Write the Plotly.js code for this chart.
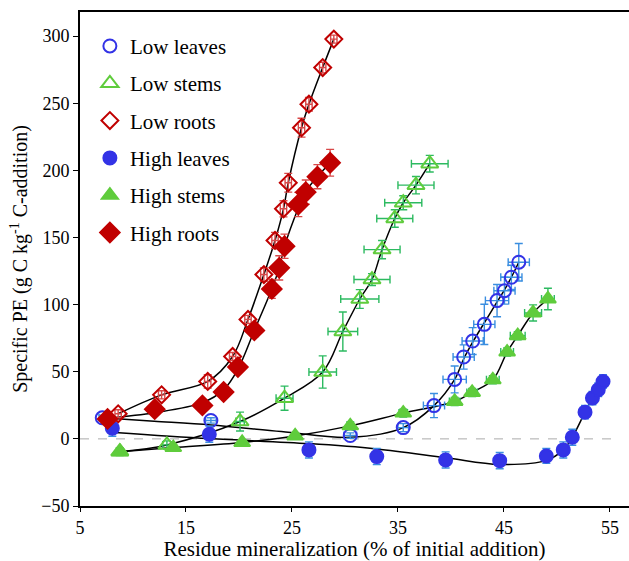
<!DOCTYPE html>
<html>
<head>
<meta charset="utf-8">
<script src="https://cdn.plot.ly/plotly-3.0.1.min.js"></script>
<style>html,body{margin:0;padding:0;background:#fff;}#chart{width:629px;height:561px;}</style>
</head>
<body>
<div id="chart"></div>
<script>
// Low leaves
const lowLeavesX   = [7.1, 17.35, 30.5, 35.5, 38.4, 40.35, 41.2, 42.05, 43.15, 44.35, 45.05, 45.7, 46.4];
const lowLeavesY   = [15.7, 13.7, 2.5, 8.4, 24.8, 44.3, 61.0, 72.9, 85.3, 103, 110.4, 120.4, 131.6];
const lowLeavesXe  = [0.3, 0.5, 0.6, 0.5, 1.0, 1.1, 1.0, 1.0, 1.0, 1.1, 1.0, 1.0, 1.0];
const lowLeavesYe  = [2, 2, 2, 3, 9, 10, 9, 10, 15, 12, 10, 9, 14];
// Low stems
const lowStemsX    = [8.75, 13.2, 20.1, 24.3, 27.9, 29.8, 31.4, 32.55, 33.5, 34.7, 35.5, 36.7, 38.0];
const lowStemsY    = [-9.5, -4.5, 12.9, 30.3, 49.8, 80, 104.2, 118.7, 141, 164.2, 175.9, 189, 205];
const lowStemsXe   = [0.3, 0.4, 0.4, 0.8, 1.3, 1.4, 1.8, 1.7, 1.7, 1.7, 1.75, 1.7, 1.73];
const lowStemsYe   = [3, 3, 7, 9, 12, 14.5, 7, 4.4, 6.8, 6.5, 5.2, 6.5, 6.2];
// Low roots
const lowRootsX    = [8.6, 12.7, 17.05, 19.4, 20.85, 22.35, 23.4, 24.2, 24.65, 25.9, 26.6, 27.9, 28.95];
const lowRootsY    = [18.7, 32.8, 42.8, 61.4, 89, 122.4, 147.8, 171.4, 190.8, 231.8, 249.3, 276.6, 297.8];
const lowRootsXe   = [0.3, 0.3, 0.3, 0.3, 0.3, 0.3, 0.3, 0.3, 0.3, 0.3, 0.3, 0.3, 0.3];
const lowRootsYe   = [3, 3, 5, 3, 3, 5, 6, 6, 7, 7, 5, 4, 3];
// High leaves
const highLeavesX  = [8.05, 17.2, 26.6, 33.0, 39.5, 44.6, 49.0, 50.6, 51.45, 52.65, 53.35, 53.9, 54.35];
const highLeavesY  = [8.0, 3.5, -8.2, -13.2, -15.7, -16.2, -12.7, -8.2, 1.2, 19.9, 30.4, 36.6, 42.8];
const highLeavesXe = [0.2, 0.2, 0.2, 0.2, 0.2, 0.2, 0.2, 0.2, 0.2, 0.2, 0.2, 0.2, 0.2];
const highLeavesYe = [6, 6, 6, 6, 6, 6, 5.5, 6, 6, 5, 5, 5, 5];
// High stems
const highStemsX   = [8.8, 13.8, 20.3, 25.3, 30.5, 35.5, 40.35, 42.0, 43.95, 45.3, 46.3, 47.75, 49.15];
const highStemsY   = [-9.5, -6.5, -2.7, 2.2, 9.7, 19.2, 27.9, 34.6, 44, 64.7, 76.9, 93.8, 104.2];
const highStemsXe  = [0.2, 0.2, 0.2, 0.2, 0.3, 0.4, 0.5, 0.5, 0.6, 0.6, 0.7, 0.8, 0.6];
const highStemsYe  = [2, 2, 2, 2, 3, 3, 3, 3, 3, 3, 3, 6, 8];
// High roots
const highRootsX   = [7.6, 12.05, 16.55, 18.55, 19.9, 21.45, 23.1, 23.8, 24.3, 25.6, 26.3, 27.4, 28.6];
const highRootsY   = [14.9, 22.1, 24.9, 34.9, 53.5, 80.8, 111.7, 127.4, 143.5, 174.6, 183.8, 195.3, 205.7];
const highRootsXe  = [0.3, 0.3, 0.3, 0.3, 0.3, 0.3, 0.3, 0.3, 0.3, 0.3, 0.3, 0.3, 0.3];
const highRootsYe  = [3, 3, 3, 4, 4, 5, 7, 9, 9, 9, 9, 9, 10];

// Fitted curves (where they depart from the points)
const lowLeavesFitX  = [7.1, 12.0, 17.35, 24.0, 30.5, 35.5, 38.4, 40.35, 41.2, 42.05, 43.15, 44.35, 45.05, 45.7, 46.4];
const lowLeavesFitY  = [15.7, 13.2, 10.4, 5.5, 1.2, 8.4, 24.8, 44.3, 59.5, 72.0, 86.5, 102, 111, 120.4, 131.6];
const highLeavesFitX = [8.3, 17.2, 26.6, 33.0, 39.5, 44.6, 49.0, 50.6, 51.45, 52.65, 53.35, 53.9, 54.35];
const highLeavesFitY = [4.8, 0.2, -3.5, -7.5, -14.0, -19.0, -16.0, -8.2, 1.2, 19.9, 30.4, 36.6, 42.8];
const highRootsFitX  = [7.6, 12.05, 16.55, 18.55, 19.9, 21.45, 23.1, 23.8, 24.3, 25.6, 26.3, 27.4, 28.6];
const highRootsFitY  = [15.5, 19.5, 27.0, 36.5, 52.0, 80.8, 111.7, 127.4, 143.5, 172.0, 184.5, 195.3, 205.7];

const seriesNames = ['Low leaves', 'Low stems', 'Low roots', 'High leaves', 'High stems', 'High roots'];

const BLUE = '#3333e6', GREEN = '#5fcc3c', RED = '#c00000';
const BLUE_E = '#3a8ee0', GREEN_E = '#2cba60', RED_E = '#d84848';

const series = [
  {x: lowLeavesX,  y: lowLeavesY,  xe: lowLeavesXe,  ye: lowLeavesYe,  fx: lowLeavesFitX,  fy: lowLeavesFitY,  sym: 'circle-open',      c: BLUE,  ec: BLUE_E,  s: 13},
  {x: lowStemsX,   y: lowStemsY,   xe: lowStemsXe,   ye: lowStemsYe,   fx: lowStemsX,      fy: lowStemsY,      sym: 'triangle-up-open', c: GREEN, ec: GREEN_E, s: 15},
  {x: lowRootsX,   y: lowRootsY,   xe: lowRootsXe,   ye: lowRootsYe,   fx: lowRootsX,      fy: lowRootsY,      sym: 'diamond-open',     c: RED,   ec: RED_E,   s: 13},
  {x: highLeavesX, y: highLeavesY, xe: highLeavesXe, ye: highLeavesYe, fx: highLeavesFitX, fy: highLeavesFitY, sym: 'circle',           c: BLUE,  ec: BLUE_E,  s: 13},
  {x: highStemsX,  y: highStemsY,  xe: highStemsXe,  ye: highStemsYe,  fx: highStemsX,     fy: highStemsY,     sym: 'triangle-up',      c: GREEN, ec: GREEN_E, s: 14},
  {x: highRootsX,  y: highRootsY,  xe: highRootsXe,  ye: highRootsYe,  fx: highRootsFitX,  fy: highRootsFitY,  sym: 'diamond',          c: RED,   ec: RED_E,   s: 15}
];

const traces = [];
series.forEach(s => {
  traces.push({x: s.fx, y: s.fy, mode: 'lines', type: 'scatter', showlegend: false, hoverinfo: 'skip',
    line: {color: '#000', width: 1.5, shape: 'spline', smoothing: 1.0}});
});
series.forEach((s, i) => {
  traces.push({
    x: s.x, y: s.y, mode: 'markers', type: 'scatter', name: seriesNames[i], legendgroup: 'g' + i,
    marker: {symbol: s.sym, size: s.s, color: s.c, line: {color: s.c, width: 2}},
    error_y: {type: 'data', array: s.ye, visible: true, color: s.ec, thickness: 1.4, width: 4},
    error_x: {type: 'data', array: s.xe, visible: true, color: s.ec, thickness: 1.4, width: 4}
  });
});

const FONT = '"Liberation Serif", "Times New Roman", Times, serif';

const layout = {
  width: 629, height: 561,
  margin: {l: 80, r: 0, t: 12, b: 55},
  paper_bgcolor: '#fff', plot_bgcolor: '#fff',
  font: {family: FONT, color: '#000', size: 18},
  showlegend: true,
  legend: {x: 0.018, y: 0.972, xanchor: 'left', yanchor: 'top', bgcolor: 'rgba(0,0,0,0)',
    font: {family: FONT, size: 21, color: '#000'}, traceorder: 'grouped', tracegroupgap: 7},
  xaxis: {range: [5, 56.8], tick0: 5, dtick: 10, showgrid: false, zeroline: false,
    showline: true, linecolor: '#000', linewidth: 2, mirror: true,
    ticks: 'outside', ticklen: 4, tickcolor: '#000', tickfont: {family: FONT, size: 18},
    title: {text: 'Residue mineralization (% of initial addition)', font: {family: FONT, size: 21}, standoff: 6}},
  yaxis: {range: [-50, 318], tick0: -50, dtick: 50, showgrid: false, zeroline: false,
    showline: true, linecolor: '#000', linewidth: 2,
    ticks: 'outside', ticklen: 5, tickcolor: '#000', tickfont: {family: FONT, size: 18},
    title: {text: 'Specific PE (g C kg<sup>-1</sup> C-addition)', font: {family: FONT, size: 20}, standoff: 8}},
  shapes: [{type: 'line', xref: 'x', yref: 'y', x0: 5, x1: 55.5, y0: 0, y1: 0,
    line: {color: '#aaaaaa', width: 1, dash: 'dash'}, layer: 'below'}]
};

Plotly.newPlot('chart', traces, layout, {displayModeBar: false, staticPlot: true});
</script>
</body>
</html>
